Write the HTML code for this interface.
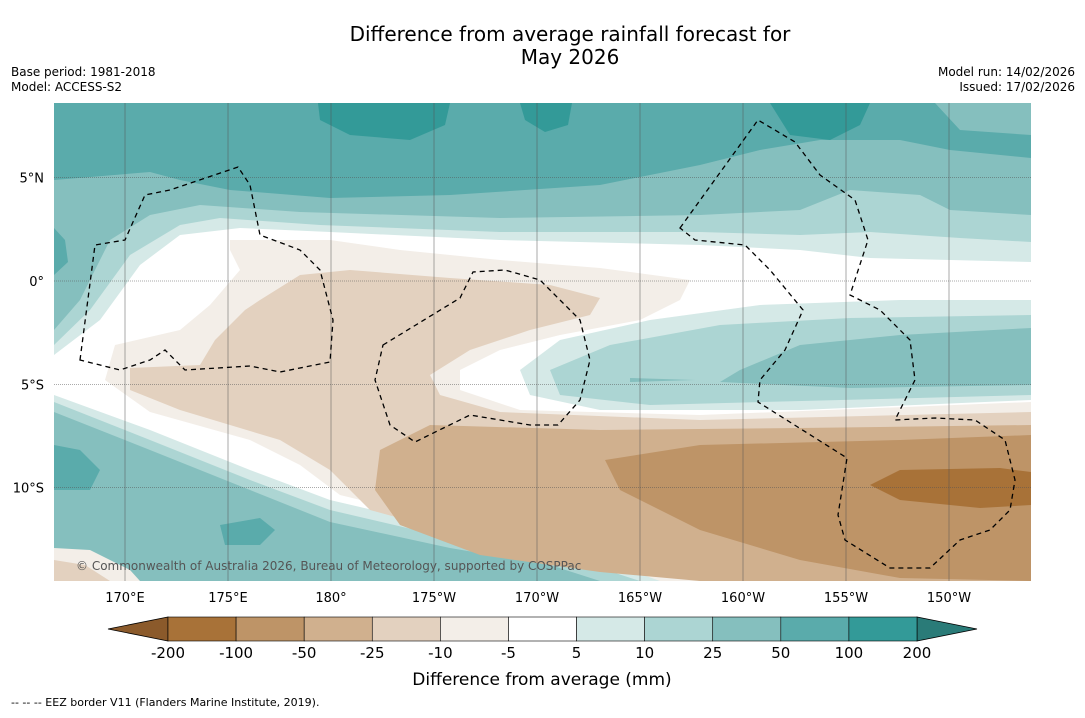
<!DOCTYPE html>
<html><head><meta charset="utf-8"><style>
body{margin:0;background:#fff;font-family:"Liberation Sans","DejaVu Sans",sans-serif;}
svg text{font-family:"DejaVu Sans","Liberation Sans",sans-serif;}
</style></head><body>
<svg id="chart" width="1085" height="713" viewBox="0 0 1085 713" xmlns="http://www.w3.org/2000/svg">
<text x="570" y="41" font-size="20" text-anchor="middle">Difference from average rainfall forecast for</text>
<text x="570" y="64" font-size="20" text-anchor="middle">May 2026</text>
<text x="11" y="76" font-size="12">Base period: 1981-2018</text>
<text x="11" y="91" font-size="12">Model: ACCESS-S2</text>
<text x="1075" y="76" font-size="12" text-anchor="end">Model run: 14/02/2026</text>
<text x="1075" y="91" font-size="12" text-anchor="end">Issued: 17/02/2026</text>
<defs><clipPath id="mc"><rect x="54" y="103" width="977" height="478"/></clipPath></defs>
<g id="map" clip-path="url(#mc)">
<rect x="54" y="103" width="977" height="478" fill="#85bfbe"/>
<polygon fill="#5aabab" points="54,103 935,103 960,130 1031,135 1031,158 950,150 900,140 820,140 760,150 700,165 600,185 450,195 330,198 230,190 180,180 150,172 54,180"/>
<polygon fill="#339a98" points="318,103 450,103 445,125 410,140 350,135 320,120"/>
<polygon fill="#339a98" points="520,103 572,103 568,125 545,132 525,120"/>
<polygon fill="#339a98" points="770,103 870,103 860,125 830,140 790,135"/>
<polygon fill="#5aabab" points="54,228 65,240 68,262 54,275"/>
<polygon fill="#5aabab" points="54,445 80,450 100,470 90,490 54,490"/>
<polygon fill="#5aabab" points="220,525 260,518 275,530 260,545 225,545"/>
<polygon fill="#acd5d3" points="54,330 80,300 110,240 150,215 200,205 300,212 500,218 700,215 800,210 850,190 920,195 950,210 1031,215 1031,581 600,581 550,565 450,548 330,522 250,490 150,450 54,412"/>
<polygon fill="#d5e9e7" points="54,345 90,310 130,255 180,225 220,218 320,225 500,232 700,232 800,235 870,232 960,238 1031,242 1031,581 640,581 560,555 450,538 330,510 250,480 150,440 54,402"/>
<polygon fill="#ffffff" points="54,355 100,320 140,265 180,235 240,228 330,232 500,240 700,245 800,250 870,258 1031,262 1031,581 680,581 560,548 450,528 330,500 250,470 150,430 54,395"/>
<polygon fill="#d5e9e7" points="1031,300 900,300 760,305 650,320 560,340 520,370 530,395 600,410 800,410 1031,400"/>
<polygon fill="#acd5d3" points="1031,315 850,318 720,325 610,345 550,370 560,395 650,405 1031,395"/>
<polygon fill="#85bfbe" points="1031,328 900,335 800,345 740,370 720,382 850,388 1031,385"/>
<polygon fill="#85bfbe" points="630,378 695,380 630,382"/>
<polygon fill="#f3eee8" points="230,240 330,240 400,250 500,260 600,268 690,280 680,300 640,320 560,335 500,350 460,370 460,390 520,410 700,415 1031,402 1031,581 660,581 560,545 450,522 340,495 300,465 250,440 150,412 105,380 115,345 180,330 210,305 240,270 230,250"/>
<polygon fill="#e3d1bf" points="260,300 300,275 350,270 450,278 550,285 600,298 590,315 530,330 470,350 430,375 440,395 500,412 700,420 1031,412 1031,581 700,581 600,560 480,540 370,510 330,470 280,440 180,410 130,390 130,368 200,365 215,340 245,310"/>
<polygon fill="#d0b08e" points="380,450 430,425 600,430 800,428 1031,425 1031,581 700,581 600,572 480,555 400,525 375,490"/>
<polygon fill="#be9467" points="605,460 700,445 900,440 1031,435 1031,581 900,578 800,560 700,530 620,490"/>
<polygon fill="#a87238" points="870,485 900,470 1000,468 1031,472 1031,505 980,508 900,500"/>
<polygon fill="#f3eee8" points="54,548 90,550 130,570 140,581 54,581"/>
<polygon fill="#e3d1bf" points="54,560 85,565 110,581 54,581"/>
<g id="grid"></g>
<g fill="none" stroke="#000" stroke-width="1.3" stroke-dasharray="5,4">
<path d="M80,360 L95,245 L125,240 L145,195 L170,190 L238,167 L250,185 L260,235 L300,250 L320,270 L333,320 L330,362 L280,372 L250,366 L185,370 L165,350 L150,360 L120,370 Z"/>
<path d="M383,345 L460,298 L473,272 L505,270 L540,280 L580,320 L590,360 L580,400 L558,425 L530,425 L470,415 L415,442 L390,425 L375,380 Z"/>
<path d="M680,228 L758,120 L795,142 L820,175 L855,200 L868,240 L850,295 L880,310 L910,340 L915,380 L895,420 L935,418 L975,420 L1005,440 L1015,480 L1010,510 L990,530 L960,540 L930,568 L890,568 L845,540 L838,515 L847,458 L758,402 L760,380 L785,350 L803,310 L770,270 L745,245 L695,240 Z"/>
</g>
<text x="76" y="570" font-size="12" fill="#555">© Commonwealth of Australia 2026, Bureau of Meteorology, supported by COSPPac</text>
</g>
<g id="axes"></g>
<g id="cbar"></g>
<text x="542" y="685" font-size="17" text-anchor="middle">Difference from average (mm)</text>
<text x="11" y="706" font-size="11">--  --  -- EEZ border V11 (Flanders Marine Institute, 2019).</text>
</svg>
<script>
const lonTicks=[170,175,180,-175,-170,-165,-160,-155,-150];
const lonLabels=["170°E","175°E","180°","175°W","170°W","165°W","160°W","155°W","150°W"];
const latTicks=[5,0,-5,-10];
const latLabels=["5°N","0°","5°S","10°S"];
const levelLabels=["-200","-100","-50","-25","-10","-5","5","10","25","50","100","200"];
const bandColors=["#a87238","#be9467","#d0b08e","#e3d1bf","#f3eee8","#ffffff","#d5e9e7","#acd5d3","#85bfbe","#5aabab","#339a98"];
const lowColor="#8b5a2b", highColor="#2a7b78";
const NS="http://www.w3.org/2000/svg";
function xLon(l){const e=l<0?l+360:l;return 125+(e-170)*20.6;}
function yLat(l){return 281-l*20.66;}
function mk(t,a,p){const e=document.createElementNS(NS,t);for(const k in a)e.setAttribute(k,a[k]);p.appendChild(e);return e;}
const grid=document.getElementById('grid'),axes=document.getElementById('axes'),cb=document.getElementById('cbar');
lonTicks.forEach((l,i)=>{const x=xLon(l);
const ln=mk('line',{x1:x,x2:x,y1:103,y2:581,stroke:'#555','stroke-width':0.5},grid);


const t=mk('text',{x:x,y:602,'font-size':13,'text-anchor':'middle'},axes);t.textContent=lonLabels[i];

});
latTicks.forEach((l,i)=>{const y=yLat(l);
const ln=mk('line',{x1:54,x2:1031,y1:y,y2:y,stroke:'#555','stroke-width':0.5,'stroke-dasharray':'1,1'},grid);


const t=mk('text',{x:44,y:y+5,'font-size':13,'text-anchor':'end'},axes);t.textContent=latLabels[i];

});
const x0=168,x1=917,y0=617,h=24,w=(x1-x0)/bandColors.length;
const lt=mk('polygon',{points:`${x0},${y0} ${x0},${y0+h} 108,${y0+h/2}`,fill:lowColor,stroke:'#000','stroke-width':0.8},cb);


const rt=mk('polygon',{points:`${x1},${y0} ${x1},${y0+h} 977,${y0+h/2}`,fill:highColor,stroke:'#000','stroke-width':0.8},cb);


bandColors.forEach((c,i)=>{const r=mk('rect',{x:x0+i*w,y:y0,width:w,height:h,fill:c,stroke:'#000','stroke-width':0.6},cb);

});
levelLabels.forEach((s,i)=>{const t=mk('text',{x:x0+i*w,y:658,'font-size':15,'text-anchor':'middle'},cb);t.textContent=s;

});
</script>
</body></html>
